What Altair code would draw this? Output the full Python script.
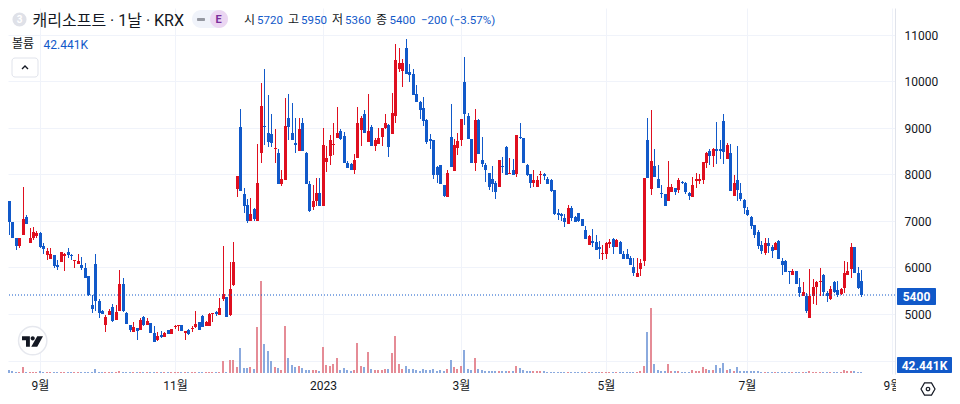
import altair as alt
import pandas as pd

open_ = [
6326,7438,6986,6642,6470,6706,7094,6534,6628,6670,
6742,6470,6276,6190,6276,6047,6111,6240,6334,6275,
6145,6083,6061,5997,5817,5200,6083,5287,5065,4771,
4986,5143,4878,5057,5645,5022,4771,4606,4699,4663,
4935,4771,4814,4591,4448,4555,4498,4649,4577,4713,
4745,4763,4584,4655,4680,4713,4828,4964,4735,4735,
4993,5036,4986,5330,5358,4971,5631,7677,9011,7570,
7333,6996,7247,6996,8452,9047,8882,8860,8538,8452,
7785,7878,9205,8882,8681,8502,9097,8452,7785,7297,
7426,7591,7319,8265,8394,8631,8789,8925,8825,8251,
8229,8093,8344,8946,9291,8695,9011,8609,8660,8803,
8989,9061,8868,9247,10259,10223,10710,10208,10165,9721,
9556,9420,9162,8755,8731,8158,8194,7763,7512,8796,
8072,8574,8739,9986,9247,8767,8237,9169,8301,8201,
8022,7892,7806,7728,8190,8588,8007,8086,8000,8815,
8774,8194,8000,7806,7728,7993,8000,7892,7878,7656,
7161,7140,7054,6925,7269,7090,7176,7032,6796,6473,
6566,6545,6444,6280,6293,6515,6616,6437,6552,6293,
6280,6208,6021,5806,5957,6143,8731,7677,8179,7892,
7595,7570,7419,7627,7699,7663,7835,7821,7591,7520,
7864,7850,7871,8251,8502,8394,8552,8538,9147,8337,
8466,7534,7871,7606,7441,7226,7089,6903,6767,6473,
6301,6530,6444,6372,6580,6150,6143,5921,5842,5928,
5591,5383,5383,4910,5383,5577,5698,5835,5441,5326,
5691,5512,5433,5563,5835,5978,6451,5892,5720]
high_ = [
8105,7438,6986,6642,6642,7725,7122,6850,6871,6778,
6764,6527,6420,6420,6276,6169,6334,6312,6420,6298,
6169,6298,6226,6097,5817,5409,6290,5330,5093,4986,
5107,5222,5200,5954,5774,5036,4771,4828,4699,4914,
4964,4914,4814,4735,4606,4627,4613,4663,4677,4756,
4771,4763,4634,4677,4735,5072,4835,4986,4842,5022,
5022,5057,5344,6470,5358,6118,6549,7957,9398,7713,
7462,7484,7283,8660,9971,10259,9699,9305,8968,8552,
8086,9649,9735,9542,9219,9219,9219,8487,7857,7763,
7914,7928,8989,8609,8839,9097,9455,8968,8911,8287,
8251,8445,9455,9255,9377,9721,9054,8789,8989,9004,
9291,9075,9742,10796,10724,10474,10904,10380,10259,9914,
9577,9671,9197,8860,8731,8179,8194,7763,8086,9506,
8753,8896,9197,10531,9312,8767,9398,9183,8803,8251,
8022,8179,7857,8301,8373,8609,8344,8323,8839,9097,
8774,8215,8000,8086,7964,8072,8022,7950,7892,7656,
7261,7176,7140,7333,7319,7104,7176,7047,6889,6709,
6817,6688,6566,6473,6545,6617,6624,6617,6566,6351,
6401,6243,6208,6208,6186,7928,9204,9376,8538,8194,
7771,7570,8280,7799,7713,7928,7857,7835,7620,7950,
8022,8000,8265,8480,8538,8574,9126,8731,9290,8681,
8645,7978,8602,7806,7462,7297,7104,6903,6803,6566,
6638,6638,6494,6545,6588,6207,6157,5935,5971,5928,
5778,5684,5441,5957,5742,5720,5993,5850,5505,5598,
5706,5720,5563,6150,6115,6530,6451,6014,5950]
low_ = [
6169,6706,6628,6369,6420,6700,6928,6534,6600,6635,
6412,6298,6154,6190,5990,5954,6111,5918,6205,6154,
5982,6083,5940,5780,5394,5022,5072,4914,4993,4606,
4971,4821,4878,5057,5043,4792,4613,4606,4448,4663,
4749,4771,4591,4390,4412,4484,4498,4570,4577,4677,
4627,4627,4433,4541,4606,4699,4663,4713,4735,4735,
4821,4964,4986,5272,4928,4964,5609,7512,7642,7175,
6960,6996,6996,6996,8237,8631,8595,8595,8251,7785,
7749,7878,8731,8731,8452,8502,8502,7785,7190,7233,
7319,7319,7319,8050,8193,8416,8789,8731,8237,8143,
8093,8000,8344,8610,8889,8695,8609,8502,8645,8609,
8968,8373,8868,9111,10201,9886,10165,9993,9706,9556,
9183,9040,8645,8552,7892,7806,7785,7512,7512,8151,
8072,8416,8609,9054,8767,8251,8072,8430,8165,7835,
7663,7620,7462,7728,8022,7986,8000,7978,7943,8767,
8237,7964,7699,7735,7728,7785,7871,7785,7620,7125,
7011,6996,6867,6925,6996,6968,6982,6889,6602,6473,
6444,6372,6193,6157,6193,6423,6300,6437,6280,6186,
6193,6050,5813,5806,5827,6028,7921,7548,7950,7706,
7484,7319,7419,7627,7555,7591,7785,7584,7448,7520,
7713,7785,7799,8143,8201,8165,8215,8337,8215,8323,
7642,7534,7426,7426,7140,7104,6831,6638,6401,6300,
6265,6315,6207,6372,6172,5849,5899,5655,5842,5655,
5369,5383,5025,4910,5225,5204,5383,5383,5254,5311,
5455,5369,5419,5455,5835,5770,5878,5527,5360]
close_ = [
7223,6972,6628,6470,6628,7043,6928,6642,6771,6742,
6448,6398,6362,6290,6025,6011,6334,6298,6276,6250,
6170,6147,5982,5780,5408,5115,5272,5022,4993,4935,
5072,4842,5043,5645,5057,4792,4663,4720,4627,4878,
4771,4857,4591,4390,4520,4498,4598,4570,4677,4749,
4770,4627,4634,4577,4705,4792,4663,4713,4828,5007,
5022,5000,5129,5430,4935,5538,6118,7957,7642,7319,
6996,7140,7032,7806,9463,9018,8703,8681,8574,7785,
7892,9032,9018,8731,8631,8968,8502,7785,7211,7434,
7591,7319,8638,8358,8731,8660,8896,8767,8251,8143,
8093,8301,9097,9212,8889,8939,8609,8731,8789,9004,
9111,8588,9312,10466,10402,10402,10165,10136,9706,9556,
9377,9147,8695,8730,7986,7986,7785,7534,8036,8151,
8624,8710,9197,9291,8767,8251,9161,8430,8229,8093,
7728,7785,7620,8301,8165,7986,8036,7986,8839,8790,
8251,7978,7806,7871,7878,8014,7957,7792,7642,7140,
7125,7104,6968,7269,7068,6982,6996,6889,6602,6674,
6516,6372,6401,6305,6516,6540,6437,6588,6293,6193,
6193,6064,5885,5885,6100,7928,7921,8279,7950,7706,
7570,7319,7728,7735,7627,7885,7806,7620,7534,7763,
7907,7892,8265,8466,8394,8538,8502,8502,8480,8624,
7642,7806,7663,7462,7269,7118,6882,6688,6458,6365,
6530,6458,6351,6516,6186,6064,5899,5899,5914,5655,
5441,5469,5075,5383,5591,5698,5720,5469,5383,5548,
5469,5419,5527,5885,5914,6451,5878,5563,5400]
volume = [
800,140,80,40,40,240,60,40,40,40,
80,30,30,30,30,30,30,30,30,30,
30,30,30,30,30,30,160,30,30,30,
30,30,30,100,30,30,30,30,30,30,
30,30,30,30,30,30,30,30,30,30,
30,30,30,30,30,30,30,30,30,30,
30,30,30,480,60,510,510,240,1000,190,
190,230,150,1840,3680,1160,880,480,230,190,
110,1880,600,310,230,270,190,110,110,110,
110,70,1030,310,270,350,590,110,190,110,
70,110,1200,270,230,840,150,110,110,110,
150,150,800,1480,350,150,270,150,150,110,
70,150,110,110,150,70,110,70,150,510,
230,150,270,910,150,110,590,150,110,70,
70,70,70,70,90,90,70,80,270,190,
120,80,70,70,70,80,70,60,60,60,
60,60,60,60,60,60,60,60,60,60,
50,50,50,40,40,40,50,40,40,40,
40,40,40,40,80,270,1630,2600,350,130,
90,70,350,80,80,80,60,60,60,110,
80,80,230,170,120,120,310,200,390,120,
150,80,230,80,80,70,70,70,70,60,
60,50,50,60,50,50,60,50,50,50,
50,50,50,70,50,50,40,40,40,40,
40,40,60,110,80,80,80,50,42.441]

n = min(len(open_), len(high_), len(low_), len(close_), len(volume))
month_pos = [10, 49, 92, 132, 174, 215, 257]
month_lab = ["9월", "11월", "2023", "3월", "5월", "7월", "9월"]
price_ticks = [4000, 5000, 6000, 7000, 8000, 9000, 10000, 11000]
last_price = close_[-1]

RED, BLUE = "#DF0F1F", "#1159C9"
VRED, VBLUE = "#E58C96", "#8BAADE"
INK = "#131722"
GRID = "#F0F3FA"
LINE = "#E0E3EB"
LATIN = "Roboto"
CJK = "Noto Sans CJK KR"
MIXED = "Roboto, 'Noto Sans CJK KR'"

W, H = 887, 366
df = pd.DataFrame({"i": list(range(n)), "open": open_[:n], "high": high_[:n],
                   "low": low_[:n], "close": close_[:n], "vol": volume[:n]})

lab_map = "{" + ",".join(f"'{p}':'{l}'" for p, l in zip(month_pos, month_lab)) + "}"
xscale = alt.Scale(domain=[0.753, 257.78], range=[0, W], nice=False, zero=False, round=True, padding=0)
xaxis = alt.Axis(values=month_pos, labelExpr=f"{lab_map}[''+datum.value]", title=None, grid=True,
                 gridColor=GRID, domain=False, ticks=False, labelFont=MIXED, labelFontSize=12,
                 labelColor=INK, labelPadding=6, labelFlush=False, labelOverlap=False)
x_axis = alt.X("i:Q", scale=xscale, axis=xaxis)
x_plain = alt.X("i:Q", scale=xscale, title=None)

yscale = alt.Scale(domain=[3710, 11579], range=[H, 0], nice=False, zero=False, round=True)
yaxis = alt.Axis(orient="right", values=price_ticks, format="d", title=None, grid=True,
                 labelExpr="datum.value == 4000 ? '' : datum.label",
                 gridColor=GRID, domainColor=LINE, ticks=False, labelPadding=9,
                 labelFont=LATIN, labelFontSize=12, labelColor=INK, labelOverlap=False)
updown = "datum.close >= datum.open"
col = alt.condition(updown, alt.value(RED), alt.value(BLUE))
vcol = alt.condition(updown, alt.value(VRED), alt.value(VBLUE))

wick = alt.Chart(df).mark_rule(strokeWidth=1, clip=True, xOffset=0.5).encode(
    x=x_axis,
    y=alt.Y("low:Q", scale=yscale, axis=yaxis),
    y2="high:Q",
    color=col,
)
body = alt.Chart(df).mark_bar(size=3, clip=True, xOffset=0.5).encode(
    x=x_plain,
    y=alt.Y("open:Q", scale=yscale, title=None),
    y2="close:Q",
    color=col,
)
last_line = alt.Chart(pd.DataFrame({"p": [last_price]})).mark_rule(
    color=BLUE, strokeWidth=1, strokeDash=[1, 2]).encode(y=alt.Y("p:Q", scale=yscale, title=None))
prices = alt.layer(wick, body, last_line)

vol_layer = alt.Chart(df).mark_bar(size=2, clip=True).encode(
    x=x_plain,
    y=alt.Y("vol:Q", scale=alt.Scale(domain=[-40, 14600], range=[H, 0], nice=False, round=True), axis=None),
    color=vcol,
)

OX, OY = 8, 8  # page margin


def rect(x0, y0, x1, y1, fill, **kw):
    return alt.Chart(pd.DataFrame({"a": [0]})).mark_rect(fill=fill, **kw).encode(
        x=alt.value(x0 - OX), x2=alt.value(x1 - OX), y=alt.value(y0 - OY), y2=alt.value(y1 - OY))


def text(s, px, py, color=INK, size=12, font=LATIN, align="left", weight="normal"):
    return alt.Chart(pd.DataFrame({"t": [s]})).mark_text(
        font=font, fontSize=size, color=color, align=align, baseline="middle", fontWeight=weight
    ).encode(text="t:N", x=alt.value(px - OX), y=alt.value(py - OY))


def sym(shape, px, py, size, **kw):
    return alt.Chart(pd.DataFrame({"a": [0]})).mark_point(shape=shape, size=size, opacity=1, **kw).encode(
        x=alt.value(px - OX), y=alt.value(py - OY))


T_LOGO = ("M-1 -.5 H-.25 V.5 H-.62 V-.12 H-1 Z "
          "M.22 -.3 A.2 .2 0 1 1 -.18 -.3 A.2 .2 0 1 1 .22 -.3 Z "
          "M.45 -.5 H1 L.45 .5 H-.12 Z")
HEX = "M-1 0 L-.5 -.87 L.5 -.87 L1 0 L.5 .87 L-.5 .87 Z"
CHEV = "M-1 .5 L0 -.5 L1 .5"

overlays = [
    rect(897, 288, 936, 305, BLUE, cornerRadius=1),
    text("5400", 916.5, 296.5, "#FFFFFF", 12, LATIN, "center", "bold"),
    rect(897, 357, 952, 373, BLUE, cornerRadius=1),
    text("42.441K", 924.5, 365.5, "#FFFFFF", 12, LATIN, "center", "bold"),
    rect(896, 377, 952, 396, "#FFFFFF"),
    sym(HEX, 928, 389, 196, filled=False, stroke=INK, strokeWidth=1.2),
    sym("circle", 928, 389, 12, filled=False, stroke=INK, strokeWidth=1.2),
    sym("circle", 19.5, 19.5, 200, filled=True, fill="#DFE1E8", strokeWidth=0),
    text("3", 19.5, 20, "#FFFFFF", 10, LATIN, "center", "bold"),
    text("캐리소프트 · 1날 · KRX", 32.5, 20.5, INK, 16, MIXED),
    rect(192, 10, 228, 28, "#F0F3FA", cornerRadius=9),
    rect(210, 10, 228, 28, "#EBD6F2", cornerRadius=9),
    rect(197, 18, 205, 21, "#9598A1", cornerRadius=1),
    text("E", 218.5, 20, "#7B2D9B", 11, LATIN, "center", "bold"),
    text("시", 244, 20, INK, 12, CJK),
    text("5720", 257, 20.5, BLUE, 11.5),
    text("고", 288, 20, INK, 12, CJK),
    text("5950", 301, 20.5, BLUE, 11.5),
    text("저", 332, 20, INK, 12, CJK),
    text("5360", 345, 20.5, BLUE, 11.5),
    text("종", 376, 20, INK, 12, CJK),
    text("5400", 389.5, 20.5, BLUE, 11.5),
    text("−200 (−3.57%)", 421, 20.5, BLUE, 11.5),
    text("볼륨", 12, 44, INK, 12, CJK),
    text("42.441K", 43.5, 44.5, BLUE, 12),
    rect(12, 58, 38, 77, "#FFFFFF", cornerRadius=3, stroke=LINE, strokeWidth=1),
    sym(CHEV, 25, 67.5, 36, filled=False, stroke=INK, strokeWidth=1.4),
    sym("circle", 32.7, 340.7, 800, filled=True, fill="#FFFFFF", stroke="#E6E8EE", strokeWidth=1.5),
    sym(T_LOGO, 32.5, 341.5, 440, filled=True, fill=INK, strokeWidth=0),
]

chart = alt.layer(
    vol_layer, prices, *overlays
).resolve_scale(y="independent").properties(
    width=W, height=H,
    autosize=alt.AutoSizeParams(type="none"),
    padding={"left": 0, "top": 0, "right": 57, "bottom": 22},
    background="#FFFFFF",
).configure_view(strokeWidth=0)

chart.save("out.html", embed_options={"renderer": "svg", "actions": False})
